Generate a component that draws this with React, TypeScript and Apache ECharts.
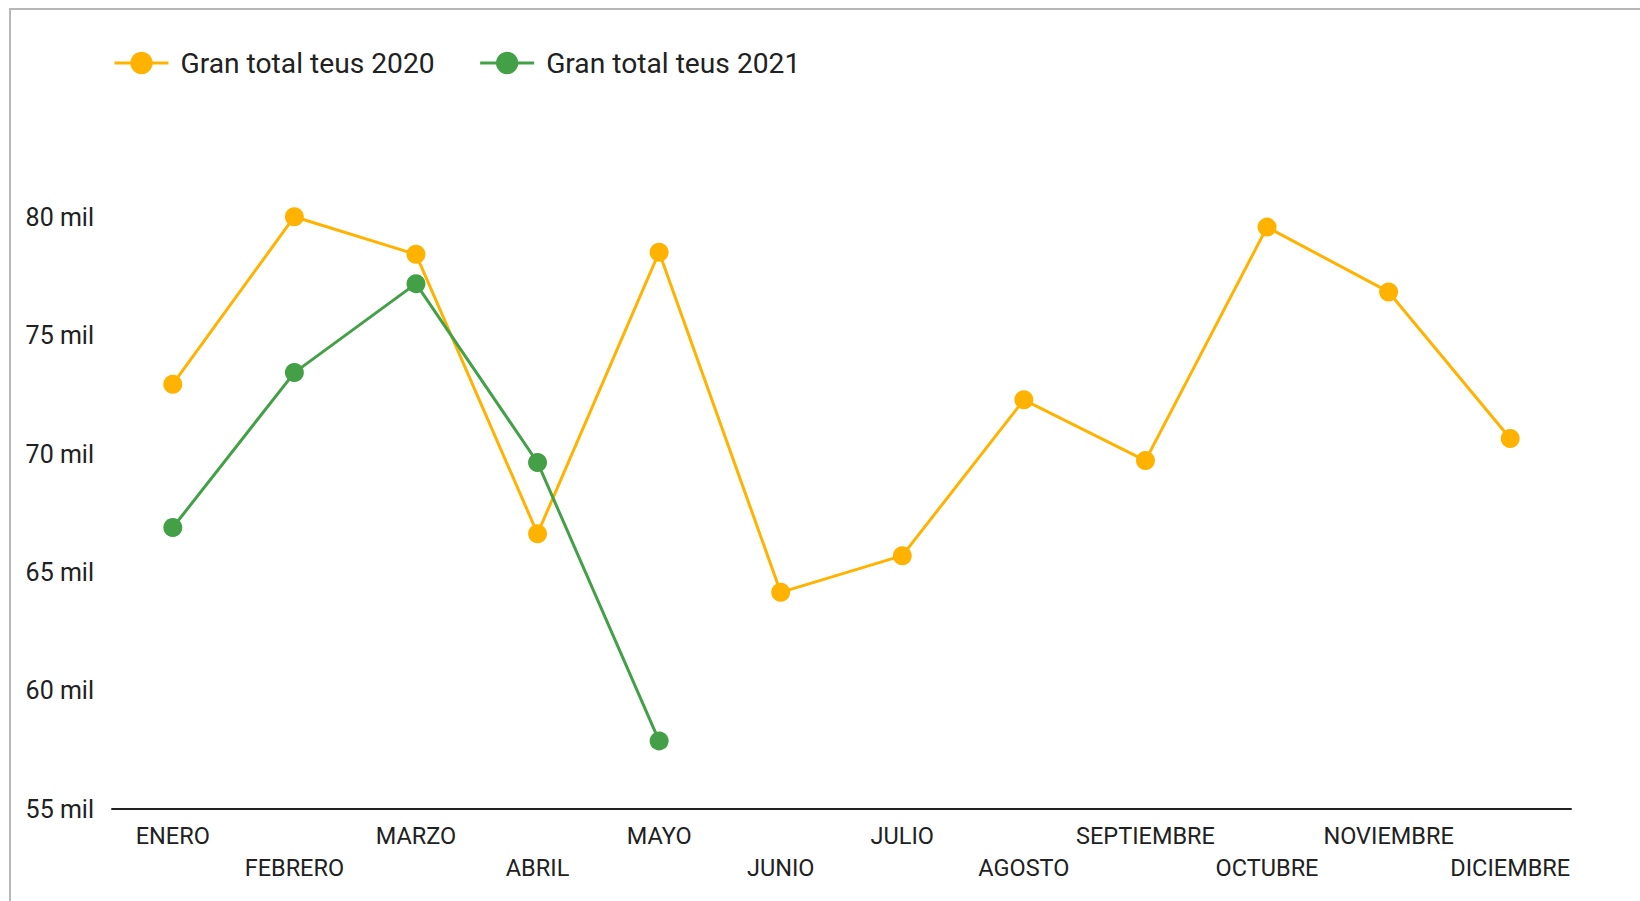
import React, { useEffect, useRef } from "react";
import * as echarts from "echarts";

const months = [
  "ENERO", "FEBRERO", "MARZO", "ABRIL", "MAYO", "JUNIO",
  "JULIO", "AGOSTO", "SEPTIEMBRE", "OCTUBRE", "NOVIEMBRE", "DICIEMBRE",
];
const teus2020 = [72960, 80040, 78450, 66640, 78540, 64160, 65710, 72300, 69730, 79600, 76860, 70660];
const teus2021 = [66900, 73450, 77210, 69650, 57880];
const seriesNames = ["Gran total teus 2020", "Gran total teus 2021"];
const yTicks = { min: 55000, max: 81000, interval: 5000 };

export default function App() {
  const ref = useRef<HTMLDivElement>(null);
  useEffect(() => {
    if (!ref.current) return;
    const chart = echarts.init(ref.current, undefined, { renderer: "svg" });
    const font = "Roboto";
    chart.setOption({
      animation: false,
      backgroundColor: "#ffffff",
      textStyle: { fontFamily: font },
      graphic: [
        {
          type: "rect",
          shape: { x: 10, y: 9, width: 1700, height: 1000 },
          style: { fill: "none", stroke: "#b7b7b7", lineWidth: 2 },
          silent: true,
        },
      ],
      legend: {
        left: 108,
        top: 44,
        itemWidth: 54,
        itemHeight: 28,
        itemGap: 44,
        lineStyle: { width: 3 },
        textStyle: { fontFamily: font, fontSize: 28.2, color: "#212121", padding: [0, 0, 0, 7] },
        data: seriesNames,
      },
      grid: { left: 112, right: 69, top: 194, bottom: 92, containLabel: false },
      xAxis: {
        type: "category",
        data: months,
        boundaryGap: true,
        axisLine: { show: true, lineStyle: { color: "#222222", width: 2 } },
        axisTick: { show: false },
        axisLabel: {
          interval: 0,
          margin: 11,
          fontFamily: font,
          fontSize: 23.5,
          color: "#212121",
          lineHeight: 32,
          formatter: (v: string, i: number) => (i % 2 === 1 ? "\n" + v : v),
        },
      },
      yAxis: {
        type: "value",
        min: yTicks.min,
        max: yTicks.max,
        interval: yTicks.interval,
        axisLine: { show: false },
        axisTick: { show: false },
        splitLine: { show: false },
        axisLabel: {
          showMaxLabel: false,
          margin: 18,
          fontFamily: font,
          fontSize: 25,
          color: "#212121",
          formatter: (v: number) => (v % 5000 === 0 ? `${v / 1000} mil` : ""),
        },
      },
      series: [
        {
          name: seriesNames[0],
          type: "line",
          data: teus2020,
          symbol: "circle",
          symbolSize: 19,
          clip: false,
          itemStyle: { color: "#FFB300" },
          lineStyle: { color: "#FFB300", width: 3 },
        },
        {
          name: seriesNames[1],
          type: "line",
          data: teus2021,
          symbol: "circle",
          symbolSize: 19,
          clip: false,
          itemStyle: { color: "#43A047" },
          lineStyle: { color: "#43A047", width: 3 },
        },
      ],
    });
    return () => chart.dispose();
  }, []);
  return (
    <div
      ref={ref}
      style={{ position: "fixed", left: 0, top: 0, width: 1640, height: 901, background: "#fff" }}
    />
  );
}
